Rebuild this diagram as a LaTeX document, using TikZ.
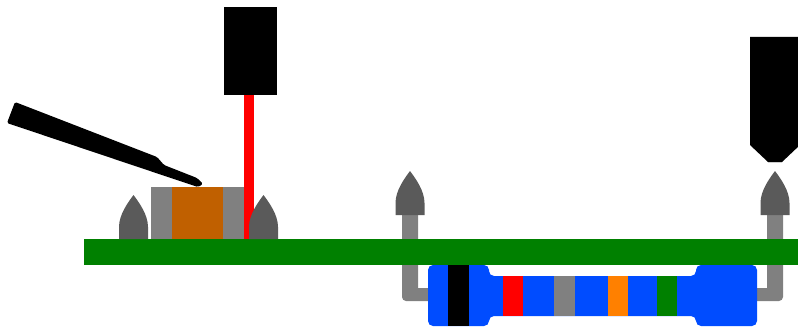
\documentclass[tikz,border=0pt]{standalone}
\usepackage{tikz}
\definecolor{boardgreen}{RGB}{0,128,0}
\definecolor{spikegray}{RGB}{90,90,90}
\definecolor{leadgray}{RGB}{128,128,128}
\definecolor{resblue}{RGB}{0,76,255}
\definecolor{bodyorange}{RGB}{192,96,0}
\definecolor{bandorange}{RGB}{255,128,0}
\tikzset{
  spike/.pic={\fill[spikegray] (-14.5,0) -- (-14.5,-12) .. controls (-14.5,-24) and (-6,-36) .. (0,-44) .. controls (6,-36) and (14.5,-24) .. (14.5,-12) -- (14.5,0) -- cycle;},
  band/.style={fill=#1}
}
\begin{document}
\begin{tikzpicture}[x=1pt,y=-1pt]
	    \useasboundingbox (0,0) rectangle (798,329);
	    \fill[leadgray] (418,215) -- (402,215) [rounded corners=4] -- (402,301) -- (436,301) [sharp corners] -- (436,288) -- (418,288) -- cycle;
	    \fill[leadgray] (767,215) -- (783,215) [rounded corners=4] -- (783,301) -- (750,301) [sharp corners] -- (750,288) -- (767,288) -- cycle;
	    \fill[boardgreen] (84,239) rectangle (798,265);
	    \fill[resblue,rounded corners=5] (428,265) -- (489,265) -- (489,276) -- (696,276) -- (696,265) -- (757,265) -- (757,326) -- (696,326) -- (696,316) -- (489,316) -- (489,326) -- (428,326) -- cycle;
	    \fill[band=black] (448,265) rectangle ++(21,61);
	    \fill[band=red] (503,276) rectangle ++(20,40);
	    \fill[band=leadgray] (554,276) rectangle ++(21,40);
	    \fill[band=bandorange] (608,276) rectangle ++(20,40);
	    \fill[band=boardgreen] (657,276) rectangle ++(20,40);
	    \fill[leadgray] (151,187) rectangle ++(93,52);
	    \fill[bodyorange] (172,187) rectangle ++(51,52);
	    \fill[black] (224,7) rectangle ++(53,88);
	    \fill[red] (244,95) rectangle (254,239);
	    \pic at (133.5,239) {spike};
	    \pic at (263.5,239) {spike};
	    \pic at (410,215) {spike};
	    \pic at (775,215) {spike};
	    \fill[black,rounded corners=1.5] (15,102) -- (157,157) -- (164,165) -- (197,178) -- (203,184) -- (198,187) -- (150,171) -- (7,123) -- cycle;
	    \fill[spikegray] (768,162) arc[start angle=180,end angle=360,x radius=7,y radius=3] -- cycle;
	    \fill[black] (750,37) -- (800,37) -- (800,145) -- (782,162) -- (768,162) -- (750,145) -- cycle;
	\end{tikzpicture}
\end{document}
